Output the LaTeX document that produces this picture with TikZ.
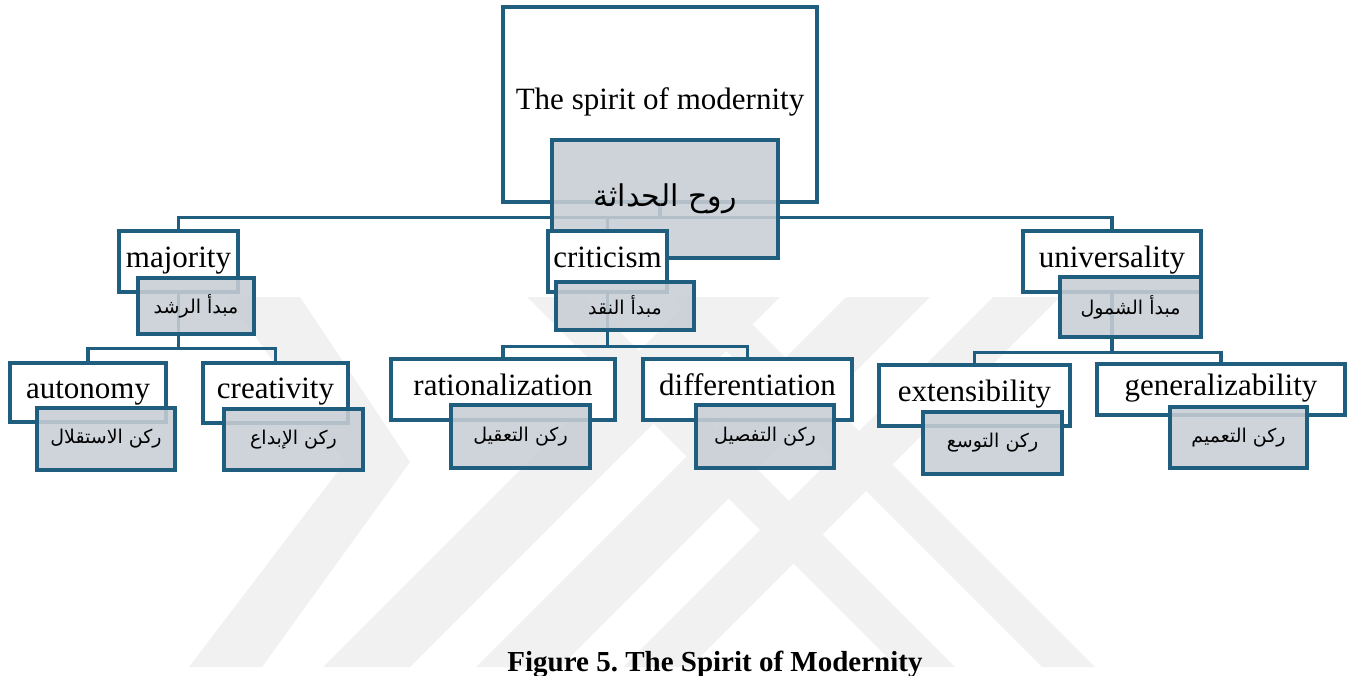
\documentclass[tikz,border=0pt]{standalone}
\usepackage{fontspec}
\setmainfont{Liberation Serif}
\newfontfamily\arabicfont[Script=Arabic]{DejaVu Sans}
\TeXXeTstate=1
\frenchspacing
\definecolor{edge}{RGB}{31,94,127}
\definecolor{shade}{RGB}{200,206,213}
\definecolor{mark}{RGB}{241,241,241}
\newcommand{\artext}[1]{\beginR #1\endR}
% stacking order: emblem, root, root links, root shade, first level, ...
\pgfdeclarelayer{emblem}
\pgfdeclarelayer{rootlinks}
\pgfdeclarelayer{rootshade}
\pgfdeclarelayer{levelone}
\pgfdeclarelayer{onelinks}
\pgfdeclarelayer{oneshade}
\pgfdeclarelayer{leveltwo}
\pgfdeclarelayer{twoshade}
\pgfsetlayers{emblem,main,rootlinks,rootshade,levelone,onelinks,oneshade,leveltwo,twoshade}
\tikzset{
  engbox/.style={draw=edge, line width=3.1pt, fill=white, inner sep=0pt,
    text height=20pt, text depth=9pt, font=\fontsize{31}{33}\selectfont},
  arbox/.style={draw=edge, line width=3.1pt, fill=shade, fill opacity=0.88,
    draw opacity=1, text opacity=1, inner sep=0pt, font=\arabicfont\fontsize{19}{22}\selectfont},
  conn/.style={draw=edge, line width=3.1pt},
  wm/.style={fill=mark, draw=none}
}
\begin{document}
\begin{tikzpicture}[x=1pt,y=-1pt]
\useasboundingbox (0,0) rectangle (1348,676);

% background emblem bands
\begin{pgfonlayer}{emblem}
\fill[wm] (227,297) -- (300,297) -- (410,462) -- (262,667) -- (189,667) -- (345,462) -- cycle;
\fill[wm] (323,667) -- (410,667) -- (780,297) -- (693,297) -- cycle;
\fill[wm] (476,667) -- (560,667) -- (930,297) -- (846,297) -- cycle;
\fill[wm] (623,667) -- (690,667) -- (1060,297) -- (993,297) -- cycle;
\fill[wm] (527,297) -- (585,297) -- (955,667) -- (897,667) -- cycle;
\fill[wm] (672,297) -- (725,297) -- (1095,667) -- (1042,667) -- cycle;
\end{pgfonlayer}

% root label
\node[engbox, minimum width=314pt, minimum height=195pt] (root) at (660,104.5) {The spirit of modernity};
\begin{pgfonlayer}{rootshade}
\node[arbox, minimum width=226pt, minimum height=118pt, font=\arabicfont\fontsize{30}{34}\selectfont] (rootA) at (665,199) {\artext{روح الحداثة}};
\end{pgfonlayer}

% first level
\begin{pgfonlayer}{levelone}
\node[engbox, minimum width=119pt, minimum height=61pt] (maj) at (178.5,261.5) {majority};
\node[engbox, minimum width=119pt, minimum height=61pt] (crit) at (607.5,261.5) {criticism};
\node[engbox, minimum width=178pt, minimum height=61pt] (univ) at (1112,261.5) {universality};
\end{pgfonlayer}
\begin{pgfonlayer}{oneshade}
\node[arbox, minimum width=116pt, minimum height=56pt] (majA) at (196,306) {\artext{مبدأ الرشد}};
\node[arbox, minimum width=138pt, minimum height=48pt] (critA) at (625,306) {\artext{مبدأ النقد}};
\node[arbox, minimum width=141pt, minimum height=60pt] (univA) at (1130.5,307) {\artext{مبدأ الشمول}};
\end{pgfonlayer}

% second level
\begin{pgfonlayer}{leveltwo}
\node[engbox, minimum width=156pt, minimum height=59pt] (auto) at (88,392.5) {autonomy};
\node[engbox, minimum width=145pt, minimum height=60pt] (crea) at (275.5,393) {creativity};
\node[engbox, minimum width=224pt, minimum height=61pt] (rat) at (503,389.5) {rationalization};
\node[engbox, minimum width=209pt, minimum height=61pt] (dif) at (747.5,389.5) {differentiation};
\node[engbox, minimum width=191pt, minimum height=61pt] (ext) at (974.5,395.5) {extensibility};
\node[engbox, minimum width=248pt, minimum height=51pt] (gen) at (1221,389.5) {generalizability};
\end{pgfonlayer}
\begin{pgfonlayer}{twoshade}
\node[arbox, minimum width=138pt, minimum height=62pt] (autoA) at (106,439) {\artext{ركن الاستقلال}};
\node[arbox, minimum width=139pt, minimum height=61pt] (creaA) at (293.5,439.5) {\artext{ركن الإبداع}};
\node[arbox, minimum width=139pt, minimum height=63pt] (ratA) at (520.5,436.5) {\artext{ركن التعقيل}};
\node[arbox, minimum width=138pt, minimum height=63pt] (difA) at (765,436.5) {\artext{ركن التفصيل}};
\node[arbox, minimum width=139pt, minimum height=62pt] (extA) at (992.5,443) {\artext{ركن التوسع}};
\node[arbox, minimum width=137pt, minimum height=61pt] (genA) at (1238.5,437.5) {\artext{ركن التعميم}};
\end{pgfonlayer}

% tree connectors, each under the shaded box it passes
\begin{pgfonlayer}{rootlinks}
\draw[conn] (root.south) -- ++(0,14) -| (maj.north);
\draw[conn] (root.south) -- ++(0,14) -| (crit.north);
\draw[conn] (root.south) -- ++(0,14) -| (univ.north);
\end{pgfonlayer}
\begin{pgfonlayer}{onelinks}
\draw[conn] (maj.south) -- ++(0,55) -| (auto.north);
\draw[conn] (maj.south) -- ++(0,55) -| (crea.north);
\draw[conn] (crit.south) -- ++(0,53) -| (rat.north);
\draw[conn] (crit.south) -- ++(0,53) -| (dif.north);
\draw[conn] (univ.south) -- ++(0,59) -| (ext.north);
\draw[conn] (univ.south) -- ++(0,59) -| (gen.north);
\end{pgfonlayer}

% caption
\node[anchor=base, inner sep=0pt, font=\bfseries\fontsize{29}{32}\selectfont] (cap) at (715,671) {Figure 5. The Spirit of Modernity};
\end{tikzpicture}
\end{document}
